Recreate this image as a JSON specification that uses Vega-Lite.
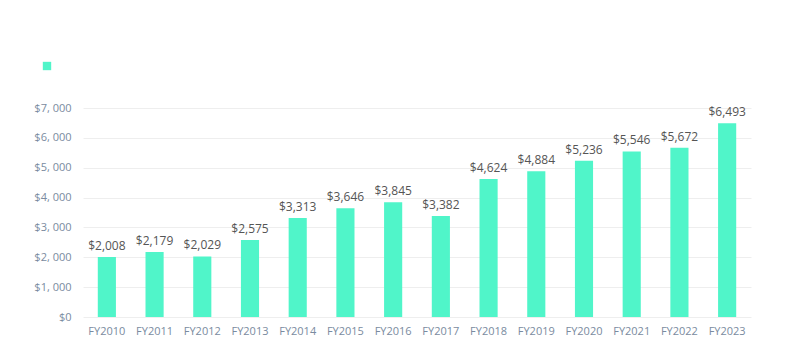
{
  "$schema": "https://vega.github.io/schema/vega-lite/v6.json",
  "width": 668,
  "height": 209,
  "autosize": {"type": "none"},
  "padding": {"left": 83, "top": 108, "right": 37, "bottom": 44},
  "background": "white",
  "config": {
    "view": {"stroke": null},
    "font": "Open Sans"
  },
  "data": {
    "values": [
      {"year": "FY2010", "value": 2008, "s": ""},
      {"year": "FY2011", "value": 2179, "s": ""},
      {"year": "FY2012", "value": 2029, "s": ""},
      {"year": "FY2013", "value": 2575, "s": ""},
      {"year": "FY2014", "value": 3313, "s": ""},
      {"year": "FY2015", "value": 3646, "s": ""},
      {"year": "FY2016", "value": 3845, "s": ""},
      {"year": "FY2017", "value": 3382, "s": ""},
      {"year": "FY2018", "value": 4624, "s": ""},
      {"year": "FY2019", "value": 4884, "s": ""},
      {"year": "FY2020", "value": 5236, "s": ""},
      {"year": "FY2021", "value": 5546, "s": ""},
      {"year": "FY2022", "value": 5672, "s": ""},
      {"year": "FY2023", "value": 6493, "s": ""}
    ]
  },
  "encoding": {
    "x": {
      "field": "year", "type": "nominal", "sort": null,
      "scale": {"paddingInner": 0.62, "paddingOuter": 0.31},
      "axis": {"title": null, "labelAngle": 0, "domain": false, "ticks": false, "labelColor": "#7a8ba0", "labelFontSize": 11, "labelPadding": 8}
    },
    "y": {
      "field": "value", "type": "quantitative",
      "scale": {"domain": [0, 7000]},
      "axis": {"title": null, "values": [0,1000,2000,3000,4000,5000,6000,7000], "labelExpr": "'$' + replace(format(datum.value, ','), ',', ', ')", "domain": false, "ticks": false, "gridColor": "#eeeeee", "labelColor": "#7a8ba0", "labelFontSize": 11, "labelPadding": 12}
    }
  },
  "layer": [
    {
      "mark": {"type": "bar", "color": "#50f5c9"},
      "encoding": {
        "color": {"field": "s", "type": "nominal", "scale": {"range": ["#50f5c9"]},
          "legend": {"title": null, "orient": "none", "legendX": -41, "legendY": -47, "symbolType": "square", "symbolSize": 70, "labelFontSize": 1}}
      }
    },
    {
      "mark": {"type": "text", "dy": -11, "fontSize": 12, "color": "#555555"},
      "encoding": {
        "text": {"field": "value", "type": "quantitative", "format": "$,.0f"}
      }
    }
  ]
}
